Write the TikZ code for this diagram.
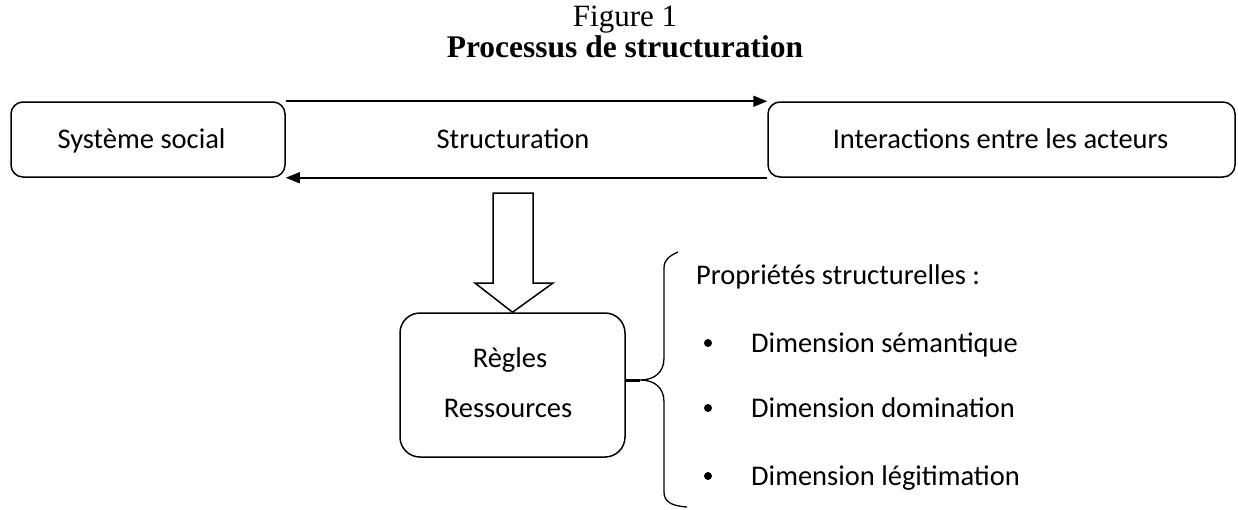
\documentclass[tikz,border=0pt]{standalone}
\usepackage{fontspec}
\setmainfont{Carlito}
\newfontfamily\titlefont{Liberation Serif}
\usetikzlibrary{arrows.meta}
\begin{document}
\begin{tikzpicture}[x=1pt,y=-1pt,
  box/.style={draw, line width=1.5pt, rounded corners=12pt, inner sep=0pt},
  lbl/.style={font=\fontsize{28.5}{34}\selectfont, inner sep=0pt},
  ttlstyle/.style={font=\titlefont\fontsize{31}{36}\selectfont, inner sep=0pt},
  conn/.style={line width=1.6pt},
  tip/.style={-{Triangle[length=14pt,width=11pt]}}]
\useasboundingbox (0,0) rectangle (1238,509);
\node[ttlstyle] (fig) at (625,20) {Figure 1};
\node[ttlstyle, font=\titlefont\bfseries\fontsize{31.5}{36}\selectfont] (ttl) at (625,47) {Processus de structuration};
\node[box, minimum width=274pt, minimum height=75pt] (ss) at (148,139.5) {};
\node[lbl, anchor=base] (sstxt) at (141.5,148) {Système social};
\node[box, minimum width=467pt, minimum height=75pt] (ia) at (1001.5,139.5) {};
\node[lbl, anchor=base] (iatxt) at (1000.5,148) {Interactions entre les acteurs};
\node[lbl, anchor=base] (st) at (513,148) {Structuration};
\draw[conn,tip] (ss.north east) -- (ia.north west);
\draw[conn,tip] (ia.south west) -- (ss.south east);
\node[box, rounded corners=20pt, minimum width=225pt, minimum height=144pt] (rr) at (512.5,385) {};
\node[lbl, anchor=base] (r1) at (510,367) {Règles};
\node[lbl, anchor=base] (r2) at (508,417) {Ressources};
% hollow block arrow
\draw[line width=1.5pt, line join=miter] (rr.north) -- (475,283) -- (493,283) -- (493,193) -- (533,193) -- (533,283) -- (553,283) -- cycle;
% brace
\coordinate (bm) at (640,380);
\draw[line width=3pt] (rr.east |- bm) -- (bm);
\draw[line width=1.3pt] (678,252) .. controls (669,256) and (664,260) .. (664,268) -- (664,358) .. controls (664,372) and (655,380) .. (bm) .. controls (655,380) and (664,388) .. (664,402) -- (664,492) .. controls (664,502) and (672,506) .. (687,507);
\node[lbl, anchor=base west] (pp) at (696,284) {Propriétés structurelles :};
\foreach \y/\t/\n in {343/Dimension sémantique/d1, 408/Dimension domination/d2, 476/Dimension légitimation/d3}{
  \fill (708,\y) circle (4pt);
  \node[lbl, anchor=base west] (\n) at (751,\y+9) {\t};
}
\end{tikzpicture}
\end{document}
